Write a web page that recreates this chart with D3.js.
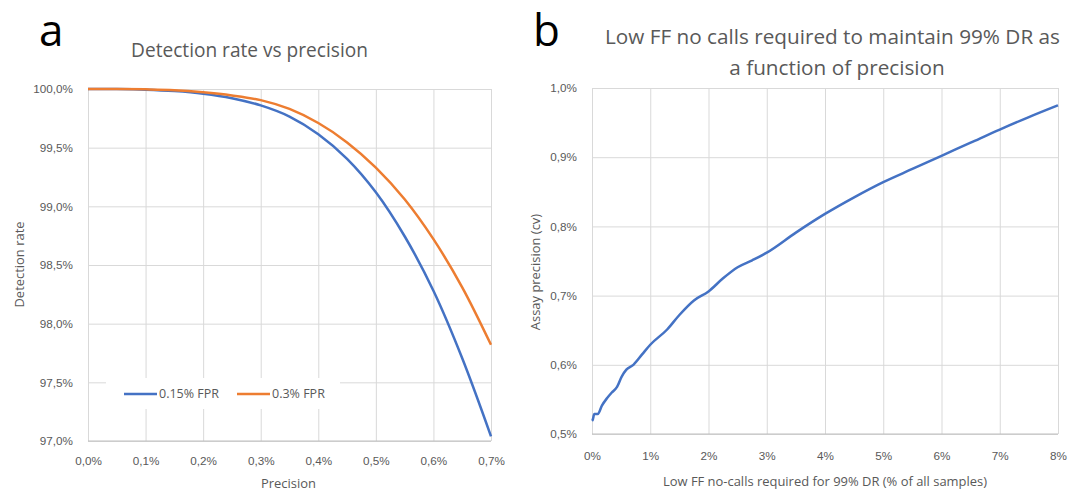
<!DOCTYPE html>
<html>
<head>
<meta charset="utf-8">
<script src="https://cdn.jsdelivr.net/npm/d3@7"></script>
<style>
  body { margin: 0; background: #fff; }
  svg { font-family: "Open Sans", sans-serif; }
  .grid line { stroke: #d9d9d9; stroke-width: 1; }
  .grid .tick text { fill: #595959; font-size: 11.7px; }
  .label { fill: #595959; }
</style>
</head>
<body>
<script>
// panel a: detection rate (%) vs precision (%)
var precision = [0, 0.05, 0.10, 0.15, 0.20, 0.25, 0.30, 0.35, 0.40, 0.45, 0.50, 0.55, 0.60, 0.65, 0.70];
var dr015 = [100.000, 99.999, 99.994, 99.982, 99.960, 99.922, 99.860, 99.765, 99.615, 99.405, 99.12, 98.745, 98.28, 97.705, 97.04];
var dr03  = [100.000, 100.000, 99.997, 99.990, 99.972, 99.945, 99.905, 99.83, 99.71, 99.545, 99.33, 99.06, 98.72, 98.31, 97.82];
var seriesNames = ["0.15% FPR", "0.3% FPR"];
var aXTicks = [0, 0.1, 0.2, 0.3, 0.4, 0.5, 0.6, 0.7];
var aYTicks = [97, 97.5, 98, 98.5, 99, 99.5, 100];

// panel b: assay precision (cv, %) vs low FF no-calls (%)
var noCalls = [0, 0.01, 0.04, 0.10, 0.17, 0.26, 0.34, 0.43, 0.51, 0.59, 0.71, 0.86, 1.0, 1.29, 1.5, 1.75, 2.0, 2.25, 2.5, 2.75, 3.0, 3.5, 4.0, 4.5, 5.0, 5.5, 6.0, 6.5, 7.0, 7.5, 8.0];
var assayCv = [0.519, 0.520, 0.529, 0.529, 0.541, 0.552, 0.560, 0.568, 0.583, 0.593, 0.600, 0.615, 0.629, 0.651, 0.672, 0.693, 0.706, 0.725, 0.741, 0.751, 0.762, 0.791, 0.818, 0.842, 0.864, 0.883, 0.902, 0.921, 0.940, 0.958, 0.975];
var bXTicks = [0, 1, 2, 3, 4, 5, 6, 7, 8];
var bYTicks = [0.5, 0.6, 0.7, 0.8, 0.9, 1.0];

var blue = "#4472c4", orange = "#ed7d31";

var locale = d3.formatLocale({decimal: ",", thousands: ".", grouping: [3], currency: ["", "€"]});
var f1 = locale.format(".1f"), f0 = locale.format(".0f");

var svg = d3.select("body").append("svg")
    .attr("width", 1083)
    .attr("height", 492);

// scale a text's font size so it spans the wanted width
function fit(sel, target) {
  var w = sel.node().getComputedTextLength();
  var fs = parseFloat(sel.attr("font-size"));
  sel.attr("font-size", fs * target / w);
  return fs * target / w;
}

// ---------- panel a ----------
var wa = 403, ha = 352;
var ga = svg.append("g").attr("transform", "translate(88,89)");

var xa = d3.scaleLinear().domain([0, 0.7]).range([0, wa]);
var ya = d3.scaleLinear().domain([97, 100]).range([ha, 0]);

ga.append("g")
    .attr("class", "grid")
    .attr("transform", "translate(0," + ha + ")")
    .call(d3.axisBottom(xa).tickValues(aXTicks).tickSize(-ha).tickPadding(15.5)
      .tickFormat(function(d) { return f1(d) + "%"; }))
    .call(function(g) { g.select(".domain").remove(); });

ga.append("g")
    .attr("class", "grid")
    .call(d3.axisLeft(ya).tickValues(aYTicks).tickSize(-wa).tickPadding(15)
      .tickFormat(function(d) { return f1(d) + "%"; }))
    .call(function(g) { g.select(".domain").remove(); });

ga.append("line")
    .attr("x1", 0).attr("x2", wa)
    .attr("y1", ha).attr("y2", ha)
    .attr("stroke", "#bfbfbf");

// legend sits on a white box over the grid
ga.append("rect")
    .attr("x", 18).attr("y", 289)
    .attr("width", 234).attr("height", 31)
    .attr("fill", "#fff");

var lineA = d3.line()
    .x(function(d, i) { return xa(precision[i]); })
    .y(function(d) { return ya(d); })
    .curve(d3.curveCatmullRom.alpha(0.5));

[dr015, dr03].forEach(function(s, k) {
  ga.append("path")
      .datum(s)
      .attr("fill", "none")
      .attr("stroke", k ? orange : blue)
      .attr("stroke-width", 2.5)
      .attr("d", lineA);
});

var legend = ga.selectAll(".legend")
    .data(seriesNames)
  .enter().append("g")
    .attr("class", "legend")
    .attr("transform", function(d, i) { return "translate(" + (36 + i * 113) + ",305)"; });

legend.append("line")
    .attr("x1", 0).attr("x2", 33)
    .attr("stroke", function(d, i) { return i ? orange : blue; })
    .attr("stroke-width", 2.5);

legend.append("text")
    .attr("class", "label")
    .attr("x", 35)
    .attr("y", 4)
    .attr("font-size", 12.5)
    .text(function(d) { return d; });

svg.append("text")
    .attr("x", 39).attr("y", 46)
    .attr("font-size", 44)
    .text("a");

var ta = svg.append("text")
    .attr("class", "label")
    .attr("text-anchor", "middle")
    .attr("x", 249.5).attr("y", 57)
    .attr("font-size", 18)
    .text("Detection rate vs precision");
fit(ta, 237);

var xla = svg.append("text")
    .attr("class", "label")
    .attr("text-anchor", "middle")
    .attr("x", 288.5).attr("y", 488)
    .attr("font-size", 13)
    .text("Precision");
var labelSize = fit(xla, 55);

svg.append("text")
    .attr("class", "label")
    .attr("text-anchor", "middle")
    .attr("transform", "translate(24,264.5) rotate(-90)")
    .attr("font-size", labelSize)
    .text("Detection rate");

// ---------- panel b ----------
var wb = 466, hb = 346;
var gb = svg.append("g").attr("transform", "translate(592,88)");

var xb = d3.scaleLinear().domain([0, 8]).range([0, wb]);
var yb = d3.scaleLinear().domain([0.5, 1.0]).range([hb, 0]);

gb.append("g")
    .attr("class", "grid")
    .attr("transform", "translate(0," + hb + ")")
    .call(d3.axisBottom(xb).tickValues(bXTicks).tickSize(-hb).tickPadding(17.5)
      .tickFormat(function(d) { return f0(d) + "%"; }))
    .call(function(g) { g.select(".domain").remove(); });

gb.append("g")
    .attr("class", "grid")
    .call(d3.axisLeft(yb).tickValues(bYTicks).tickSize(-wb).tickPadding(15)
      .tickFormat(function(d) { return f1(d) + "%"; }))
    .call(function(g) { g.select(".domain").remove(); });

gb.append("line")
    .attr("x1", 0).attr("x2", wb)
    .attr("y1", hb).attr("y2", hb)
    .attr("stroke", "#bfbfbf");

gb.append("path")
    .datum(assayCv)
    .attr("fill", "none")
    .attr("stroke", blue)
    .attr("stroke-width", 2.5)
    .attr("d", d3.line()
      .x(function(d, i) { return xb(noCalls[i]); })
      .y(function(d) { return yb(d); })
      .curve(d3.curveMonotoneX));

svg.append("text")
    .attr("x", 533).attr("y", 46)
    .attr("font-size", 44)
    .text("b");

var tb1 = svg.append("text")
    .attr("class", "label")
    .attr("text-anchor", "middle")
    .attr("x", 832.5).attr("y", 44)
    .attr("font-size", 19)
    .text("Low FF no calls required to maintain 99% DR as");
var tbSize = fit(tb1, 455);

svg.append("text")
    .attr("class", "label")
    .attr("text-anchor", "middle")
    .attr("x", 837).attr("y", 75)
    .attr("font-size", tbSize)
    .text("a function of precision");

svg.append("text")
    .attr("class", "label")
    .attr("text-anchor", "middle")
    .attr("x", 825).attr("y", 486)
    .attr("font-size", labelSize)
    .text("Low FF no-calls required for 99% DR (% of all samples)");

svg.append("text")
    .attr("class", "label")
    .attr("text-anchor", "middle")
    .attr("transform", "translate(540,272) rotate(-90)")
    .attr("font-size", labelSize)
    .text("Assay precision (cv)");
</script>
</body>
</html>
